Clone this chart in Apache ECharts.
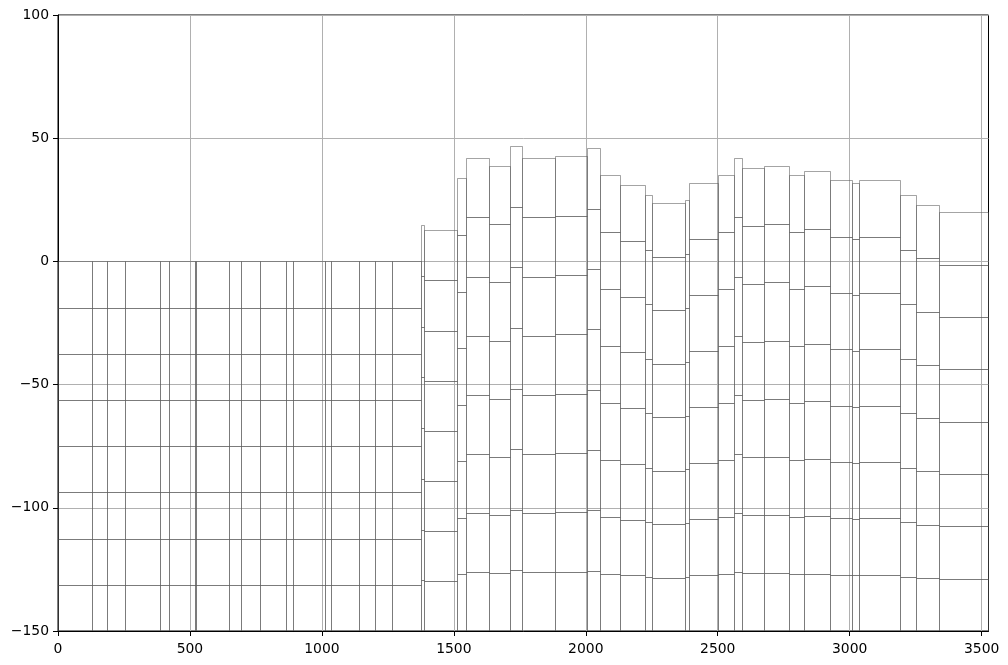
<!DOCTYPE html>
<html>
<head>
<meta charset="utf-8">
<script src="https://cdn.jsdelivr.net/npm/echarts@6/dist/echarts.min.js"></script>
<style>
  html, body { margin: 0; padding: 0; background: #fff; }
  #chart { width: 1008px; height: 665px; }
</style>
</head>
<body>
<div id="chart"></div>
<script>
// column edges along x (m)
const xEdges = [0, 132, 187, 255, 390, 424, 520, 524, 648, 697, 769, 864, 894, 1013, 1035, 1141, 1204, 1266, 1376,
    1387, 1512, 1547, 1634, 1715, 1759, 1884, 2006, 2055, 2131, 2225, 2252, 2377, 2392, 2502, 2563, 2595,
    2677, 2772, 2829, 2927, 3011, 3037, 3193, 3253, 3340, 3526];
// top elevation of each column
const colTops = [0, 0, 0, 0, 0, 0, 0, 0, 0, 0, 0, 0, 0, 0, 0, 0, 0, 0,
    14.7, 12.6, 33.7, 41.8, 38.6, 46.7, 41.8, 42.7, 45.9, 34.9, 30.9, 26.8, 23.6, 24.8, 31.7,
    34.9, 41.8, 37.8, 38.6, 34.9, 36.6, 32.9, 31.7, 32.9, 26.8, 22.8, 19.9];
const bottomElev = -150;
// layer boundaries as fraction of column depth (8 layers)
const layerFrac = [0, 0.125, 0.25, 0.375, 0.5, 0.625, 0.75, 0.875, 1];
const xTicks = [0, 500, 1000, 1500, 2000, 2500, 3000, 3500];

const cells = [];
for (let i = 0; i < colTops.length; i++) {
    const top = colTops[i];
    const depth = top - bottomElev;
    for (let k = 0; k < layerFrac.length - 1; k++) {
        cells.push([xEdges[i], xEdges[i + 1], top - layerFrac[k] * depth, top - layerFrac[k + 1] * depth]);
    }
}

const minus = v => String(v).replace('-', '\u2212');

const chart = echarts.init(document.getElementById('chart'));
chart.setOption({
    animation: false,
    grid: {
        left: 58, right: 19.5, top: 15, bottom: 34,
        show: true, borderColor: '#000', borderWidth: 1, backgroundColor: '#fff'
    },
    xAxis: {
        type: 'value',
        min: 0,
        max: xEdges[xEdges.length - 1],
        interval: 500,
        axisLine: { show: true, onZero: false, lineStyle: { color: '#000', width: 1 } },
        axisTick: { show: true, length: 5, lineStyle: { color: '#000' }, customValues: xTicks },
        axisLabel: {
            customValues: xTicks,
            color: '#000', fontFamily: 'DejaVu Sans', fontSize: 13.9, margin: 11,
            formatter: minus
        },
        splitLine: { show: true, lineStyle: { color: '#b0b0b0', width: 1 } }
    },
    yAxis: {
        type: 'value',
        min: -150,
        max: 100,
        interval: 50,
        axisLine: { show: true, onZero: false, lineStyle: { color: '#000', width: 1 } },
        axisTick: { show: true, length: 5, lineStyle: { color: '#000' } },
        axisLabel: {
            color: '#000', fontFamily: 'DejaVu Sans', fontSize: 13.9, margin: 9,
            formatter: minus
        },
        splitLine: { show: true, lineStyle: { color: '#b0b0b0', width: 1 } }
    },
    series: [{
        type: 'custom',
        silent: true,
        clip: true,
        encode: { x: [0, 1], y: [2, 3] },
        data: cells,
        renderItem: (params, api) => {
            const p0 = api.coord([api.value(0), api.value(2)]);
            const p1 = api.coord([api.value(1), api.value(3)]);
            const x0 = Math.floor(p0[0]) + 0.5;
            const x1 = Math.floor(p1[0]) + 0.5;
            const y0 = Math.round(p0[1]) + 0.5;
            const y1 = Math.round(p1[1]) + 0.5;
            return {
                type: 'rect',
                shape: { x: x0, y: y0, width: x1 - x0, height: y1 - y0 },
                style: { fill: 'none', stroke: 'rgba(90,90,90,0.55)', lineWidth: 1 }
            };
        }
    }]
});

window.addEventListener('resize', function () {
    chart.resize();
});
</script>
</body>
</html>
